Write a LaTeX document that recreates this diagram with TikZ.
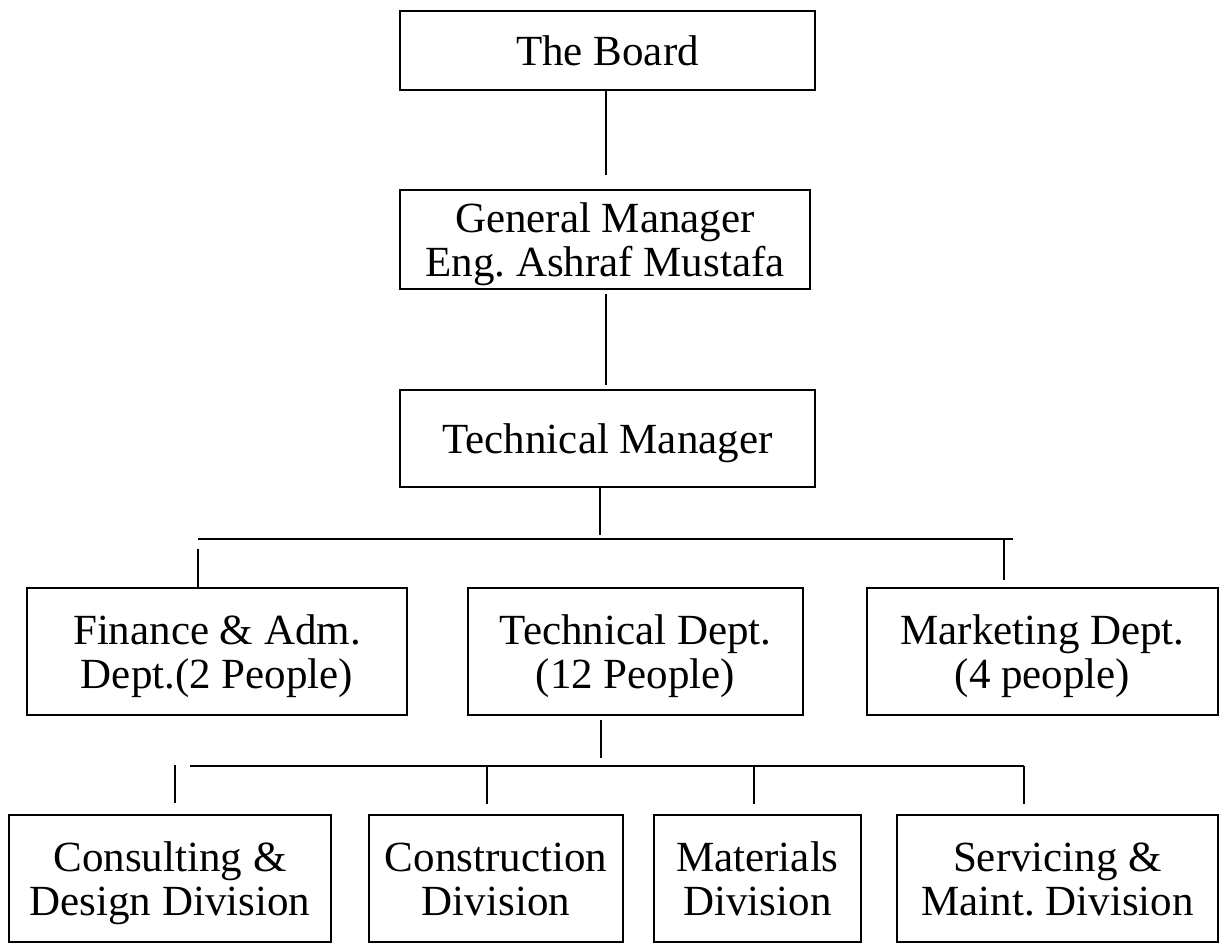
\documentclass[tikz,border=0pt]{standalone}
\usepackage{fontspec}
\setmainfont{Liberation Serif}
\frenchspacing
\begin{document}
\begin{tikzpicture}[x=1pt,y=-1pt,
  box/.style={draw, line width=2.2pt, inner sep=0pt, outer sep=0pt, align=center,
     font=\fontsize{43}{44}\selectfont, text depth=0pt},
  one/.style={text height=29pt},
  two/.style={text height=73pt},
  conn/.style={line width=1.4pt}]
\useasboundingbox (0,0) rectangle (1224,943);
% level 1-3
\node[box,one,minimum width=415pt,minimum height=79pt] (board) at (607.5,50.5) {The Board};
\node[box,two,minimum width=410pt,minimum height=99pt] (gm) at (605,239.5) {General Manager\\Eng. Ashraf Mustafa};
\node[box,one,minimum width=415pt,minimum height=97pt] (tm) at (607.5,438.5) {Technical Manager};
% departments
\node[box,two,minimum width=380pt,minimum height=127pt] (fin) at (217,651.5) {Finance \& Adm.\\Dept.(2 People)};
\node[box,two,minimum width=335pt,minimum height=127pt] (tech) at (635.5,651.5) {Technical Dept.\\(12 People)};
\node[box,two,minimum width=351pt,minimum height=127pt] (mkt) at (1042.5,651.5) {Marketing Dept.\\(4 people)};
% divisions
\node[box,two,minimum width=322pt,minimum height=127pt] (cons) at (170,878.5) {Consulting \&\\Design Division};
\node[box,two,minimum width=254pt,minimum height=127pt] (constr) at (496,878.5) {Construction\\Division};
\node[box,two,minimum width=207pt,minimum height=127pt] (mat) at (757.5,878.5) {Materials\\Division};
\node[box,two,minimum width=321pt,minimum height=127pt] (serv) at (1057.5,878.5) {Servicing \&\\Maint. Division};
% connectors
\coordinate (a1) at (606,175);
\draw[conn] (board.south -| a1) -- (a1);
\coordinate (a2) at (606,294);
\coordinate (a3) at (606,385);
\draw[conn] (a2) -- (a3);
\coordinate (a4) at (600,535);
\draw[conn] (tm.south -| a4) -- (a4);
\coordinate (h1l) at (198,539);
\coordinate (h1r) at (1013,539);
\draw[conn] (h1l) -- (h1r);
\coordinate (f1) at (198,549);
\draw[conn] (f1) -- (f1 |- fin.north);
\coordinate (m1) at (1004,538);
\coordinate (m2) at (1004,580);
\draw[conn] (m1) -- (m2);
\coordinate (t1) at (601,720);
\coordinate (t2) at (601,758);
\draw[conn] (t1) -- (t2);
\coordinate (h2l) at (190,766);
\coordinate (h2r) at (1024,766);
\draw[conn] (h2l) -- (h2r);
\coordinate (s1a) at (175,765);
\coordinate (s1b) at (175,803);
\draw[conn] (s1a) -- (s1b);
\coordinate (s2a) at (487,766);
\coordinate (s2b) at (487,804);
\draw[conn] (s2a) -- (s2b);
\coordinate (s3a) at (754,766);
\coordinate (s3b) at (754,804);
\draw[conn] (s3a) -- (s3b);
\coordinate (s4a) at (1024,766);
\coordinate (s4b) at (1024,804);
\draw[conn] (s4a) -- (s4b);
\end{tikzpicture}
\end{document}
